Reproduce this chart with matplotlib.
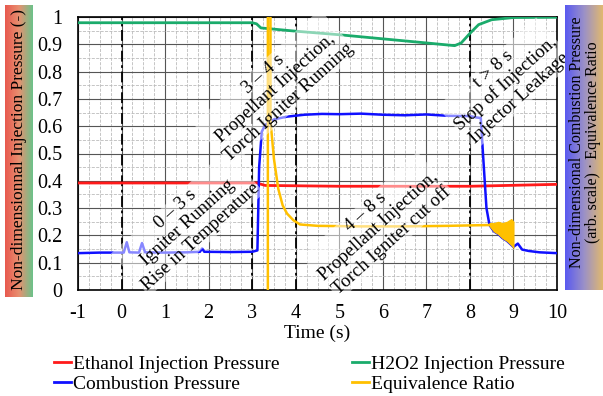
import numpy as np
import matplotlib
matplotlib.use("Agg")
import matplotlib.pyplot as plt
from matplotlib.ticker import MultipleLocator

plt.rcParams['font.family'] = ['Liberation Serif', 'DejaVu Serif']
plt.rcParams['axes.unicode_minus'] = False

# --- data ---
eth_t = [-1, 3.1, 3.3, 5.0, 8.0, 10.0]
eth_y = [0.392, 0.392, 0.383, 0.380, 0.380, 0.387]

h2o2_t = [-1, 3.0, 3.1, 3.2, 4.0, 5.0, 6.0, 7.0, 7.65, 7.8, 8.0, 8.2, 8.5, 9.0, 10.0]
h2o2_y = [0.979, 0.979, 0.975, 0.960, 0.948, 0.935, 0.920, 0.905, 0.895, 0.905, 0.940, 0.972, 0.990, 0.998, 0.999]

comb_t = [-1, -0.5, 0.05, 0.12, 0.18, 0.4, 0.47, 0.54, 1.0, 1.5, 1.8, 1.85, 1.9, 2.5, 3.0, 3.12,
          3.16, 3.22, 3.3, 3.5, 3.8, 4.2, 4.6, 5.0, 5.5, 6.0, 6.5, 7.0, 7.5, 8.0, 8.15, 8.25,
          8.3, 8.38, 8.45, 8.55, 8.65, 8.75, 8.85, 9.0, 9.1, 9.2, 9.35, 9.6, 10.0]
comb_y = [0.135, 0.137, 0.137, 0.175, 0.138, 0.137, 0.172, 0.138, 0.137, 0.138, 0.14, 0.152, 0.14, 0.139, 0.14, 0.145,
          0.45, 0.58, 0.605, 0.625, 0.635, 0.642, 0.645, 0.644, 0.646, 0.642, 0.640, 0.643, 0.638, 0.637, 0.632, 0.63,
          0.50, 0.30, 0.238, 0.215, 0.205, 0.19, 0.18, 0.158, 0.17, 0.148, 0.143, 0.138, 0.135]

eq_t = [3.36, 3.36, 3.42, 3.42, 3.5, 3.6, 3.7, 3.8, 3.95, 4.1, 4.5, 5.5, 6.5, 7.5, 8.45]
eq_y = [0.0, 1.05, 1.05, 0.62, 0.48, 0.37, 0.31, 0.28, 0.255, 0.24, 0.235, 0.233, 0.233, 0.235, 0.238]

eq_fill_t = [8.45, 8.55, 8.65, 8.75, 8.85, 8.95, 9.0]
eq_fill_hi = [0.245, 0.245, 0.25, 0.245, 0.25, 0.26, 0.25]
eq_fill_lo = [0.235, 0.215, 0.205, 0.19, 0.18, 0.165, 0.155]

phase_lines = [0, 3, 4, 8]

red = '#ff1a1a'
green = '#1aab6b'
blue = '#1010ff'
yellow = '#ffc000'

fig = plt.figure(figsize=(6.03, 3.96), dpi=100)
ax = fig.add_axes([78/603, 1-290/396, (557-78)/603, (290-17)/396])

ax.set_xlim(-1, 10)
ax.set_ylim(0, 1)
ax.xaxis.set_major_locator(MultipleLocator(1))
ax.xaxis.set_minor_locator(MultipleLocator(0.25))
ax.yaxis.set_major_locator(MultipleLocator(0.1))
ax.yaxis.set_minor_locator(MultipleLocator(0.05))
ax.set_yticks(np.arange(0, 1.01, 0.1))
ax.set_yticklabels(['0', '0.1', '0.2', '0.3', '0.4', '0.5', '0.6', '0.7', '0.8', '0.9', '1'])
ax.grid(which='major', color='#555555', linewidth=0.8)
ax.grid(which='minor', color='#bbbbbb', linewidth=0.6, linestyle='--')
ax.tick_params(which='both', length=0, labelsize=14.5)
ax.tick_params(axis='y', pad=11)
ax.tick_params(axis='x', pad=10)
for s in ax.spines.values():
    s.set_linewidth(1.2)

for x in phase_lines:
    ax.axvline(x, color='black', linestyle=(0, (6, 2, 1.5, 2)), linewidth=1.3, zorder=2)

ax.plot(eth_t, eth_y, color=red, linewidth=2, zorder=3)
ax.plot(h2o2_t, h2o2_y, color=green, linewidth=2, zorder=3)
ax.plot(comb_t, comb_y, color=blue, linewidth=1.8, zorder=3)
ax.plot(eq_t, eq_y, color=yellow, linewidth=1.8, zorder=4)
ax.fill_between(eq_fill_t, eq_fill_lo, eq_fill_hi, color=yellow, linewidth=0.8, zorder=4)

box = dict(facecolor='white', alpha=0.5, edgecolor='none', pad=1)
kw = dict(rotation=42, ha='center', va='center', fontsize=13.5, linespacing=1.15,
          rotation_mode='anchor', bbox=box, zorder=5)
ax.text(1.52, 0.245, '0 – 3 s\nIgniter Running\nRise in Temperature', **kw)
ax.text(3.54, 0.74, '3 – 4 s\nPropellant Injection,\nTorch Igniter Running', **kw)
ax.text(5.91, 0.234, '4 – 8 s\nPropellant Injection,\nTorch Igniter cut off', **kw)
ax.text(8.83, 0.755, 't > 8 s\nStop of Injection,\nInjector Leakage', **kw)

ax.set_xlabel('Time (s)', fontsize=14, labelpad=1)

# gradient label boxes
grad = np.linspace(0, 1, 64).reshape(1, -1)
lbox = fig.add_axes([5/603, 1-297/396, 28/603, 292/396])
lbox.imshow(grad, aspect='auto', extent=[0, 1, 0, 1],
            cmap=matplotlib.colors.LinearSegmentedColormap.from_list('rg', ['#e8594f', '#e89070', '#6cc28a']))
lbox.axis('off')
rbox = fig.add_axes([565/603, 1-290/396, 38/603, 285/396])
rbox.imshow(grad, aspect='auto', extent=[0, 1, 0, 1],
            cmap=matplotlib.colors.LinearSegmentedColormap.from_list('by', ['#5a5af0', '#9a90c8', '#e0b870']))
rbox.axis('off')

fig.text(19/603, 1-150/396, 'Non-dimensionnal Injection Pressure (-)', rotation=90,
         ha='center', va='center', fontsize=12.5)
fig.text(577/603, 1-142/396, 'Non-dimensional Combustion Pressure', rotation=90,
         ha='center', va='center', fontsize=11.5)
fig.text(593/603, 1-142/396, '(arb. scale) · Equivalence Ratio', rotation=90,
         ha='center', va='center', fontsize=11.5)

# legend
h_eth, = ax.plot([], [], color=red, linewidth=2, label='Ethanol Injection Pressure')
h_comb, = ax.plot([], [], color=blue, linewidth=2, label='Combustion Pressure')
h_h2o2, = ax.plot([], [], color=green, linewidth=2, label='H2O2 Injection Pressure')
h_eq, = ax.plot([], [], color=yellow, linewidth=2, label='Equivalence Ratio')
fig.legend(handles=[h_eth, h_comb, h_h2o2, h_eq], ncol=2, loc='center left',
           bbox_to_anchor=(46/603, 1-374/396), frameon=False, fontsize=14,
           handlelength=0.9, handletextpad=0.1, columnspacing=3.7, labelspacing=0.12,
           borderaxespad=0)

fig.savefig('out.png', dpi=100)
